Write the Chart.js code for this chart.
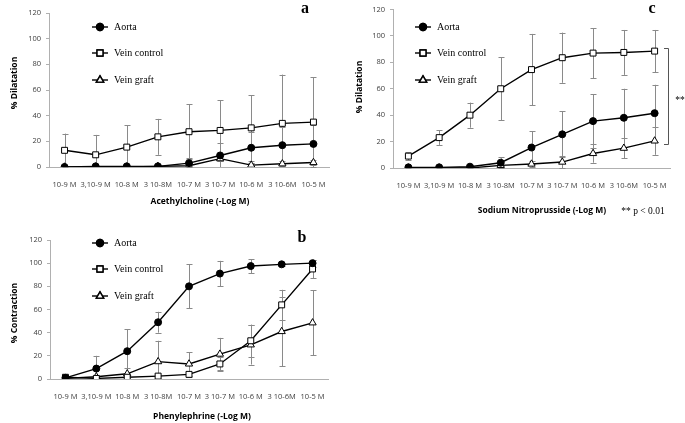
<!DOCTYPE html>
<html>
<head>
<meta charset="utf-8">
<script src="https://cdn.jsdelivr.net/npm/chart.js@4.4.1/dist/chart.umd.min.js"></script>
<style>
  body { margin: 0; background: #fff; }
  #wrap { position: relative; width: 685px; height: 423px; }
  canvas { position: absolute; }
</style>
</head>
<body>
<div id="wrap">
  <canvas id="chartA" width="340" height="210" style="left:0;top:0"></canvas>
  <canvas id="chartC" width="340" height="220" style="left:345px;top:0"></canvas>
  <canvas id="chartB" width="340" height="213" style="left:0;top:210px"></canvas>
</div>
<script>
// dose labels shared by the three panels
const doses = ['10-9 M', '3,10-9 M', '10-8 M', '3 10-8M', '10-7 M', '3 10-7 M', '10-6 M', '3 10-6M', '10-5 M'];

// a - Acethylcholine (% dilatation)
const achAorta = [0, 0.5, 0.5, 0.5, 3, 9, 15, 17, 18];
const achAortaErr = [0, 0, 0, 0, 4, 10, 12, 14, 15];
const achVein = [13, 9.5, 15.5, 23.5, 27.5, 28.5, 30.5, 34, 35];
const achVeinErr = [13, 15.5, 17, 14, 21.5, 23.5, 25.5, 38, 35];
const achGraft = [0, 0, 0, 0.5, 1, 6.5, 1.5, 2.5, 3.5];
const achGraftErr = [0, 0, 0, 0, 1, 2, 2, 2, 2];

// c - Sodium nitroprusside (% dilatation)
const snpAorta = [0.5, 0.5, 1, 4, 15.5, 25.5, 35.5, 38, 41.5];
const snpAortaErr = [0.5, 0.5, 1, 4, 12.5, 17.5, 20.5, 22, 21.5];
const snpVein = [9, 23, 40, 60, 74.5, 83.5, 87, 87.5, 88.5];
const snpVeinErr = [3, 5.5, 9.5, 24, 27, 19, 19, 17, 16];
const snpGraft = [0, 0, 0, 2, 3, 4.5, 11, 15, 20.5];
const snpGraftErr = [0, 0, 0, 0.5, 2.5, 4.5, 7, 7.5, 10.5];

// b - Phenylephrine (% contraction)
const peAorta = [1, 9, 24, 49, 80, 91, 97.5, 99, 100];
const peAortaErr = [0, 11, 19, 9, 19, 11, 6, 1.5, 3];
const peVein = [1.5, 0.5, 1.5, 2.5, 4, 13, 33, 64, 95];
const peVeinErr = [0, 0, 1, 0, 2, 6, 14, 13, 8];
const peGraft = [0.5, 2, 4.5, 15, 13, 21.5, 29.5, 41, 48.5];
const peGraftErr = [0, 1, 5, 18, 10, 14, 17, 30, 28];

const seriesNames = ['Aorta', 'Vein control', 'Vein graft'];

const SANS = "'Open Sans', 'Liberation Sans', sans-serif";
const SERIF = "'Liberation Serif', 'DejaVu Serif', serif";

const markerStyles = [
    { pointStyle: 'circle', pointRadius: 3.5, pointBackgroundColor: '#000' },
    { pointStyle: 'rect', pointRadius: 4.2, pointBackgroundColor: '#fff' },
    { pointStyle: 'triangle', pointRadius: 4.2, pointBackgroundColor: '#fff' }
];

function makeSeries(i, data, errors) {
    return Object.assign({
        label: seriesNames[i],
        data: data,
        errors: errors,
        borderColor: '#000',
        borderWidth: 1.4,
        pointBorderColor: '#000',
        pointBorderWidth: 1,
        tension: 0
    }, markerStyles[i]);
}

// error bars, drawn behind the lines and markers
const errorBarPlugin = {
    id: 'errorBars',
    beforeDatasetsDraw(chart) {
        const ctx = chart.ctx;
        const x = chart.scales.x, y = chart.scales.y;
        ctx.save();
        ctx.strokeStyle = '#8a8a8a';
        ctx.lineWidth = 1;
        chart.data.datasets.forEach(ds => {
            (ds.errors || []).forEach((err, i) => {
                if (!err) return;
                const v = ds.data[i];
                const lo = Math.max(v - err, 0), hi = Math.min(v + err, 120);
                const px = Math.round(x.getPixelForValue(i)) + 0.5;
                const pLo = y.getPixelForValue(lo), pHi = y.getPixelForValue(hi);
                ctx.beginPath();
                ctx.moveTo(px, pLo);
                ctx.lineTo(px, pHi);
                if (v + err <= 120) { ctx.moveTo(px - 3, Math.round(pHi) + 0.5); ctx.lineTo(px + 3, Math.round(pHi) + 0.5); }
                if (v - err >= 0) { ctx.moveTo(px - 3, Math.round(pLo) + 0.5); ctx.lineTo(px + 3, Math.round(pLo) + 0.5); }
                ctx.stroke();
            });
        });
        ctx.restore();
    }
};

// legend inside the plot, axis titles, panel letter and notes
const decorPlugin = {
    id: 'decor',
    afterDraw(chart, args, opts) {
        const ctx = chart.ctx;
        ctx.save();
        // legend
        chart.data.datasets.forEach((ds, i) => {
            const ly = opts.legendY[i];
            ctx.strokeStyle = '#000';
            ctx.lineWidth = 1.4;
            ctx.beginPath();
            ctx.moveTo(opts.legendX, ly);
            ctx.lineTo(opts.legendX + 16, ly);
            ctx.stroke();
            Chart.helpers.drawPoint(ctx, {
                pointStyle: ds.pointStyle,
                radius: ds.pointRadius,
                borderWidth: 1
            }, opts.legendX + 8, ly);
            ctx.fillStyle = ds.pointBackgroundColor;
            ctx.strokeStyle = '#000';
            ctx.fill();
            ctx.stroke();
            ctx.fillStyle = '#000';
            ctx.font = '10px ' + SERIF;
            ctx.textAlign = 'left';
            ctx.textBaseline = 'middle';
            ctx.fillText(ds.label, opts.legendX + 22, ly);
        });
        // axis titles
        ctx.fillStyle = '#000';
        ctx.font = 'bold 8.5px ' + SANS;
        ctx.textAlign = 'center';
        ctx.textBaseline = 'middle';
        ctx.fillText(opts.xTitle, opts.xTitlePos[0], opts.xTitlePos[1]);
        ctx.save();
        ctx.translate(opts.yTitlePos[0], opts.yTitlePos[1]);
        ctx.rotate(-Math.PI / 2);
        ctx.fillText(opts.yTitle, 0, 0);
        ctx.restore();
        // panel letter
        ctx.font = 'bold 16px ' + SERIF;
        ctx.fillText(opts.letter, opts.letterPos[0], opts.letterPos[1]);
        // notes
        (opts.notes || []).forEach(n => {
            ctx.font = n.font;
            ctx.textAlign = n.align || 'center';
            ctx.fillText(n.text, n.x, n.y);
        });
        // significance bracket
        if (opts.bracket) {
            const b = opts.bracket;
            ctx.strokeStyle = '#555';
            ctx.lineWidth = 1;
            ctx.beginPath();
            ctx.moveTo(b.x - 4, b.y1 + 0.5);
            ctx.lineTo(b.x + 0.5, b.y1 + 0.5);
            ctx.lineTo(b.x + 0.5, b.y2 + 0.5);
            ctx.lineTo(b.x - 4, b.y2 + 0.5);
            ctx.stroke();
        }
        ctx.restore();
    }
};

function makeChart(canvasId, datasets, area, decor) {
    const cv = document.getElementById(canvasId);
    return new Chart(cv, {
        type: 'line',
        data: { labels: doses, datasets: datasets },
        options: {
            responsive: false,
            animation: false,
            layout: {
                padding: { left: 0, top: area.top, right: cv.width - area.right, bottom: 0 }
            },
            plugins: {
                legend: { display: false },
                tooltip: { enabled: false },
                decor: decor
            },
            scales: {
                x: {
                    offset: true,
                    afterFit: s => { s.height = cv.height - area.bottom; },
                    grid: { display: false, offset: true },
                    border: { display: true, color: '#b0b0b0', width: 1 },
                    ticks: {
                        color: '#404040',
                        font: { size: 7.5, family: SANS },
                        padding: 5,
                        maxRotation: 0,
                        autoSkip: false
                    }
                },
                y: {
                    min: 0,
                    max: 120,
                    afterFit: s => { s.width = area.left; },
                    grid: { drawOnChartArea: false, color: '#b0b0b0', tickLength: 3 },
                    border: { display: true, color: '#b0b0b0', width: 1 },
                    ticks: {
                        stepSize: 20,
                        color: '#404040',
                        font: { size: 7.5, family: SANS },
                        padding: 5
                    }
                }
            }
        },
        plugins: [errorBarPlugin, decorPlugin]
    });
}

makeChart('chartA', [
    makeSeries(0, achAorta, achAortaErr),
    makeSeries(1, achVein, achVeinErr),
    makeSeries(2, achGraft, achGraftErr)
], { left: 49, right: 329, top: 13, bottom: 167 }, {
    legendY: [27, 53, 80],
    legendX: 92,
    xTitle: 'Acethylcholine (-Log M)',
    xTitlePos: [200, 202],
    yTitle: '% Dilatation',
    yTitlePos: [15, 83],
    letter: 'a',
    letterPos: [305, 9]
});

makeChart('chartC', [
    makeSeries(0, snpAorta, snpAortaErr),
    makeSeries(1, snpVein, snpVeinErr),
    makeSeries(2, snpGraft, snpGraftErr)
], { left: 48, right: 325, top: 5, bottom: 168 }, {
    legendY: [27, 53, 80],
    legendX: 70,
    xTitle: 'Sodium Nitroprusside (-Log M)',
    xTitlePos: [197, 211],
    yTitle: '% Dilatation',
    yTitlePos: [15, 87],
    letter: 'c',
    letterPos: [307, 9],
    notes: [
        { text: '** p < 0.01', x: 298, y: 211, font: '9.5px ' + SERIF },
        { text: '**', x: 335, y: 100, font: '9.5px ' + SERIF }
    ],
    bracket: { x: 323, y1: 48, y2: 144 }
});

makeChart('chartB', [
    makeSeries(0, peAorta, peAortaErr),
    makeSeries(1, peVein, peVeinErr),
    makeSeries(2, peGraft, peGraftErr)
], { left: 50, right: 328, top: 30, bottom: 169 }, {
    legendY: [33, 59, 86],
    legendX: 92,
    xTitle: 'Phenylephrine (-Log M)',
    xTitlePos: [202, 207],
    yTitle: '% Contraction',
    yTitlePos: [15, 103],
    letter: 'b',
    letterPos: [302, 28]
});
</script>
</body>
</html>
